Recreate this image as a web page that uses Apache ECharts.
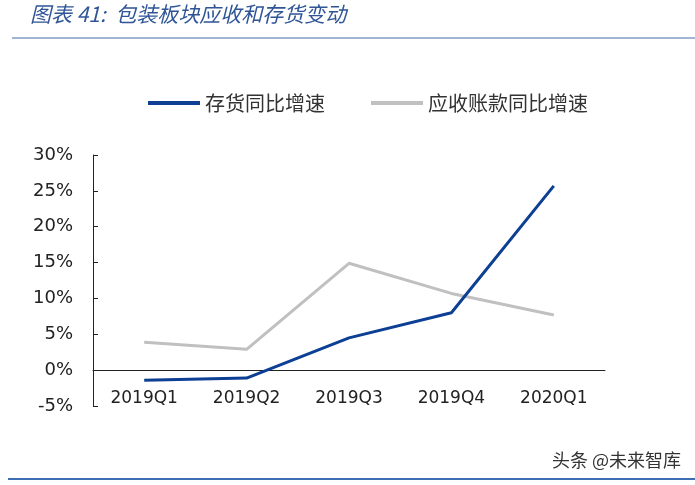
<!DOCTYPE html>
<html>
<head>
<meta charset="utf-8">
<script src="https://cdn.jsdelivr.net/npm/echarts@6/dist/echarts.min.js"></script>
<style>
  html, body { margin: 0; padding: 0; background: #fff; }
  #chart { width: 695px; height: 485px; }
</style>
</head>
<body>
<div id="chart"></div>
<script>
var quarters = ['2019Q1', '2019Q2', '2019Q3', '2019Q4', '2020Q1'];
var inventoryGrowth = [-1.4, -1.1, 4.5, 8.0, 25.7];
var receivableGrowth = [3.9, 2.9, 14.9, 10.7, 7.7];
var seriesNames = ['存货同比增速', '应收账款同比增速'];

var myChart = echarts.init(document.getElementById('chart'));
var font = '"Noto Sans CJK SC", "DejaVu Sans", sans-serif';

var option = {
  backgroundColor: '#fff',
  animation: false,
  graphic: [
    {
      type: 'text', left: 30, top: 4,
      style: { text: '图表 41:  包装板块应收和存货变动', fill: '#2f5597', font: 'italic 21px ' + font }
    },
    {
      type: 'line', shape: { x1: 12, y1: 38, x2: 695, y2: 38 },
      style: { stroke: '#7f9cc4', lineWidth: 1.5 }
    },
    {
      type: 'text', right: 14, top: 451,
      style: { text: '头条 @未来智库', fill: '#333', font: '18px ' + font }
    },
    {
      type: 'line', shape: { x1: 8, y1: 479, x2: 695, y2: 479 },
      style: { stroke: '#3d6db3', lineWidth: 2 }
    }
  ],
  legend: {
    top: 88,
    left: 143,
    itemGap: 46,
    itemWidth: 52,
    itemHeight: 4,
    icon: 'rect',
    textStyle: { fontSize: 20, color: '#333', fontFamily: font },
    data: seriesNames
  },
  grid: { left: 93, right: 90, top: 155, bottom: 79 },
  xAxis: {
    type: 'category',
    data: quarters,
    boundaryGap: true,
    axisLine: { onZero: true, lineStyle: { color: '#222', width: 1 } },
    axisTick: { inside: true, length: 5, lineStyle: { color: '#222' } },
    axisLabel: { color: '#222', fontSize: 17, margin: -16, fontFamily: '"DejaVu Sans", sans-serif' }
  },
  yAxis: {
    type: 'value',
    min: -5,
    max: 30,
    interval: 5,
    splitLine: { show: false },
    axisLine: { show: true, lineStyle: { color: '#222', width: 1 } },
    axisTick: { show: true, inside: true, length: 5, lineStyle: { color: '#222' } },
    axisLabel: {
      color: '#222', fontSize: 18, margin: 20, fontFamily: '"DejaVu Sans", sans-serif',
      formatter: '{value}%'
    }
  },
  series: [
    {
      name: seriesNames[0],
      type: 'line',
      data: inventoryGrowth,
      symbol: 'none',
      lineStyle: { color: '#0d3f94', width: 3 },
      itemStyle: { color: '#0d3f94' },
      z: 3
    },
    {
      name: seriesNames[1],
      type: 'line',
      data: receivableGrowth,
      symbol: 'none',
      lineStyle: { color: '#c0c0c0', width: 3 },
      itemStyle: { color: '#c0c0c0' },
      z: 2
    }
  ]
};

myChart.setOption(option);
</script>
</body>
</html>
